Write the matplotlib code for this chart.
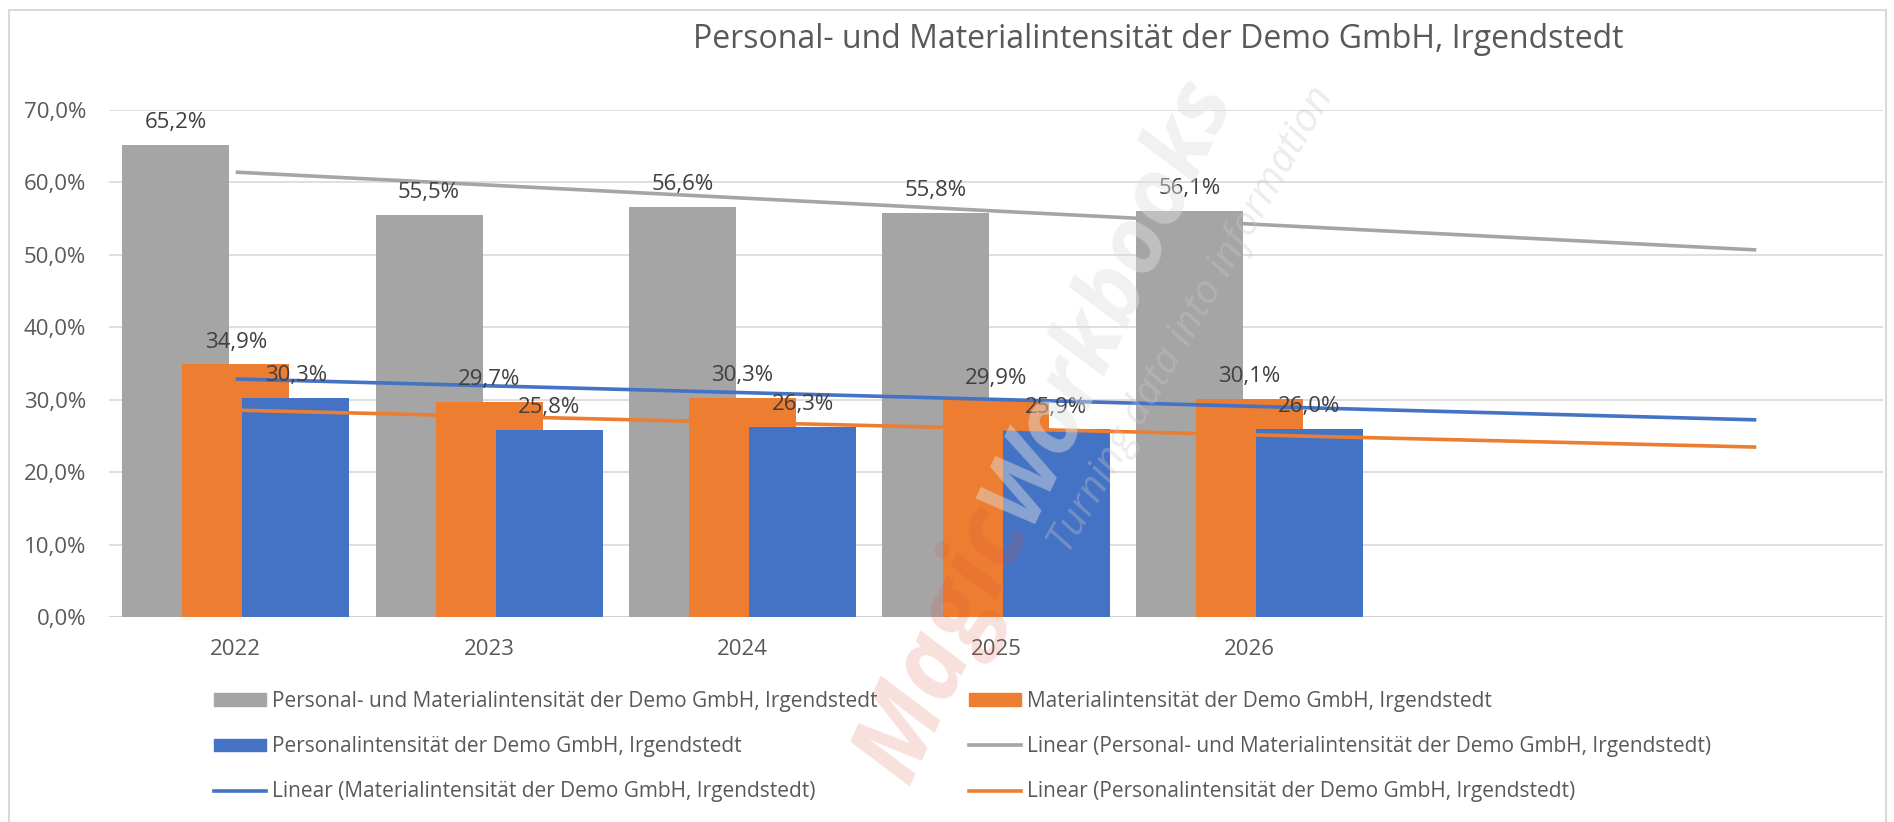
import numpy as np
import matplotlib
matplotlib.use("Agg")
import matplotlib.pyplot as plt
from matplotlib.patches import Patch, Rectangle
from matplotlib.lines import Line2D

# ---- data -------------------------------------------------------------
years = ["2022", "2023", "2024", "2025", "2026"]
gesamt = [65.2, 55.5, 56.6, 55.8, 56.1]      # Personal- und Materialintensität (%)
material = [34.9, 29.7, 30.3, 29.9, 30.1]    # Materialintensität (%)
personal = [30.3, 25.8, 26.3, 25.9, 26.0]    # Personalintensität (%)
forecast_periods = 2                         # trend lines run two periods ahead
y_ticks = [0, 10, 20, 30, 40, 50, 60, 70]

title = "Personal- und Materialintensität der Demo GmbH, Irgendstedt"
name_gesamt = "Personal- und Materialintensität der Demo GmbH, Irgendstedt"
name_material = "Materialintensität der Demo GmbH, Irgendstedt"
name_personal = "Personalintensität der Demo GmbH, Irgendstedt"

# ---- style ------------------------------------------------------------
GRAY = "#A5A5A5"
ORANGE = "#ED7D31"
BLUE = "#4472C4"
TEXT = "#595959"
LABEL = "#404040"
GRID = "#D9D9D9"
FONT = ["Open Sans", "DejaVu Sans"]

plt.rcParams["font.family"] = FONT

W, H = 1894, 822
fig = plt.figure(figsize=(W / 100, H / 100), dpi=100)


def pct(v):
    return f"{v:.1f}%".replace(".", ",")


# chart frame
fig.patches.append(Rectangle((9, -20), 1877, H - 10 + 20, transform=None,
                             fill=False, edgecolor="#D9D9D9", lw=1.5))

ax = fig.add_axes([109 / W, 1 - 617 / H, (1883 - 109) / W, (617 - 110) / H])

x = np.arange(len(years))
bw = 0.422
off = 0.237

ax.bar(x - off, gesamt, bw, color=GRAY, zorder=2)
ax.bar(x, material, bw, color=ORANGE, zorder=2.1)
ax.bar(x + off, personal, bw, color=BLUE, zorder=2.2)

# linear trend lines (least squares), extended into the forecast periods
xt = np.array([0, len(years) - 1 + forecast_periods])
for vals, col in [(gesamt, GRAY), (material, BLUE), (personal, ORANGE)]:
    k = np.polyfit(x, vals, 1)
    ax.plot(xt, np.polyval(k, xt), color=col, lw=2.6, zorder=3,
            solid_capstyle="butt")

# value labels
for vals, dx in [(gesamt, -off), (material, 0.0), (personal, off)]:
    for xi, v in zip(x, vals):
        ax.annotate(pct(v), (xi + dx, v), xytext=(0, 12),
                    textcoords="offset points", ha="center", va="baseline",
                    fontsize=16, color=LABEL, zorder=5)

ax.set_xlim(-0.5, len(years) - 1 + forecast_periods + 0.5)
ax.set_ylim(0, 70)
ax.set_yticks(y_ticks)
ax.set_yticklabels([pct(v) for v in y_ticks])
ax.set_xticks(x)
ax.set_xticklabels(years)
ax.tick_params(axis="y", length=0, pad=16.5, labelsize=16, labelcolor=TEXT)
ax.tick_params(axis="x", length=0, pad=16, labelsize=16, labelcolor=TEXT)
for s in ax.spines.values():
    s.set_visible(False)
ax.yaxis.grid(True, color=GRID, lw=1.2)
ax.set_axisbelow(True)
ax.axhline(0, color="#D0D0D0", lw=1.8, zorder=1.5)

fig.text(1158 / W, 1 - 48 / H, title, ha="center", va="baseline",
         fontsize=23, color=TEXT)

# legend: two columns
col1 = [Patch(color=GRAY), Patch(color=BLUE), Line2D([], [], color=BLUE, lw=2.6)]
lab1 = [name_gesamt, name_personal, f"Linear ({name_material})"]
col2 = [Patch(color=ORANGE), Line2D([], [], color=GRAY, lw=2.6),
        Line2D([], [], color=ORANGE, lw=2.6)]
lab2 = [name_material, f"Linear ({name_gesamt})", f"Linear ({name_personal})"]
leg_kw = dict(loc="upper left", frameon=False, fontsize=15, handlelength=2.5,
              handleheight=0.55, handletextpad=0.3, labelspacing=1.16,
              borderpad=0, borderaxespad=0, labelcolor=TEXT)
fig.legend(col1, lab1, bbox_to_anchor=(214 / W, 1 - 691 / H), **leg_kw)
fig.legend(col2, lab2, bbox_to_anchor=(969 / W, 1 - 691 / H), **leg_kw)

# watermark
ang = 65
jx, jy = 1005, H - 515
fig.text(jx / W, jy / H, "Magic", rotation=ang, rotation_mode="anchor",
         ha="right", va="center", fontsize=74, fontweight="bold",
         style="italic", color="#D9533F", alpha=0.18, zorder=10)
fig.text(jx / W, jy / H, "Workbooks", rotation=ang, rotation_mode="anchor",
         ha="left", va="center", fontsize=66, fontweight="bold",
         style="italic", color="#E0E0E0", alpha=0.45, zorder=10)
fig.text(1068 / W, 1 - 555 / H, "Turning data into information",
         rotation=60, rotation_mode="anchor", ha="left", va="baseline",
         fontsize=29, style="italic", color="#C8C8C8", alpha=0.35, zorder=10)

fig.savefig("out.png", dpi=100)
